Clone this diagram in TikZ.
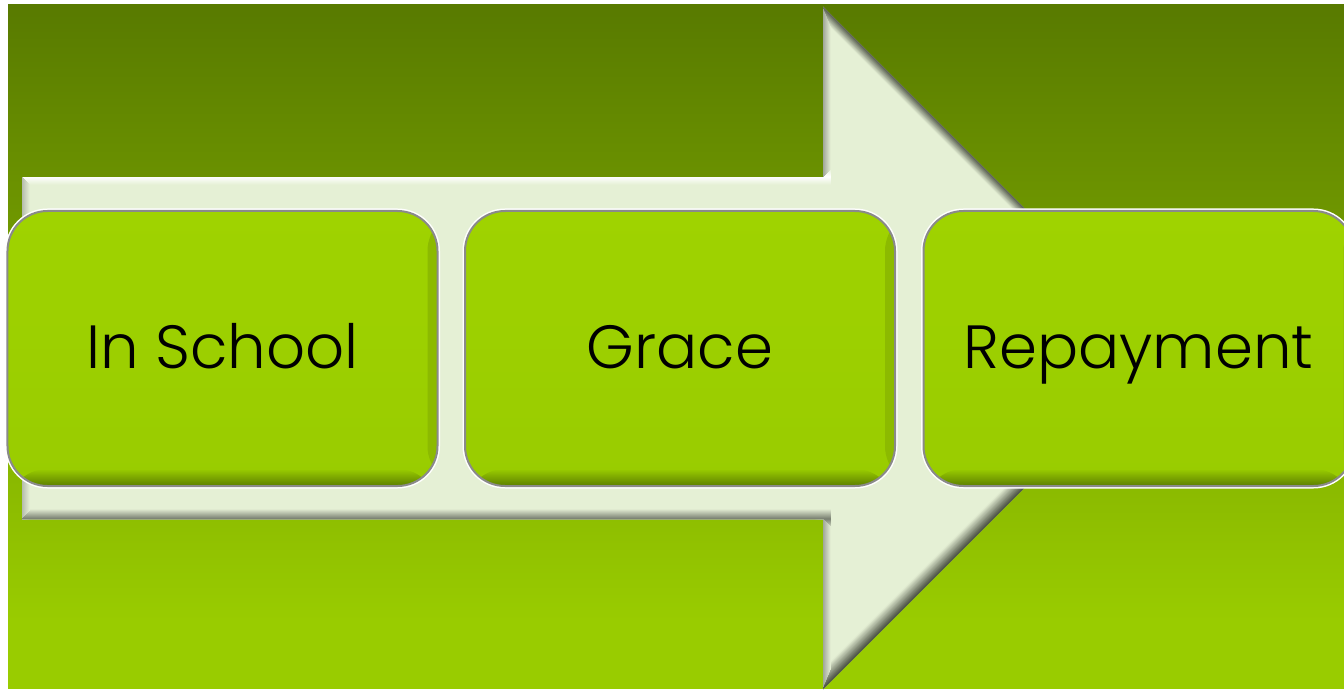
\documentclass[tikz,border=0pt]{standalone}
\usepackage{fontspec}
\newfontfamily\stagefont{Poppins}[UprightFont={* Light}]

\definecolor{bgtop}{HTML}{587A00}
\definecolor{bgbot}{HTML}{99CC00}
\definecolor{arrowfill}{HTML}{E5F0D5}
\definecolor{bvlight}{HTML}{FFFFFF}
\definecolor{bvside}{HTML}{9EA396}
\definecolor{bvleft}{HTML}{B4BAAC}
\definecolor{bvdarkup}{HTML}{5A6052}
\definecolor{bvdarklow}{HTML}{4C5244}
\definecolor{bvbottom}{HTML}{787E70}
\definecolor{boxtop}{HTML}{9FD300}
\definecolor{boxfill}{HTML}{99CC00}
\definecolor{boxshade}{HTML}{5C7E00}
\definecolor{boxright}{HTML}{8CBA00}
\definecolor{boxline}{HTML}{8A8A8A}

\tikzset{
  stage/.style={
    rounded corners=40bp, minimum width=430bp, minimum height=275bp,
    inner sep=0pt, text height=39bp, text depth=0bp,
    top color=boxtop, middle color=boxfill, bottom color=boxfill,
    draw=boxline, line width=2bp,
    preaction={draw=white, line width=5bp},
    path picture={
      \shade[left color=boxfill, right color=boxright]
        ([xshift=-10bp]path picture bounding box.south east) rectangle
        (path picture bounding box.north east);
      \shade[top color=boxfill, bottom color=boxshade]
        (path picture bounding box.south west) rectangle
        ([yshift=17bp]path picture bounding box.south east);
    },
    font=\stagefont\fontsize{61bp}{68bp}\selectfont, text=black
  }
}

% one bevel stroke along an arrow edge: half width #1, band width #2,
% edge colour #3, segment #4 (drawn only while inside the band)
\newcommand\bevelline[4]{%
  \pgfmathsetmacro\tint{max(0,100*(1-(#1-0.5)/#2))}%
  \ifdim\tint pt>0pt \draw[line width=2*#1 bp, #3!\tint!arrowfill] #4;\fi
}
\newcommand\bevelpass[1]{%
  \bevelline{#1}{8}{bvlight}{(14,177) -- (831,177)}%
  \bevelline{#1}{8}{bvleft}{(22,527) -- (22,169)}%
  \bevelline{#1}{10}{bvbottom}{(831,519) -- (14,519)}%
  \bevelline{#1}{8}{bvside}{(823,177) -- (823,0)}%
  \bevelline{#1}{8}{bvside}{(823,697) -- (823,519)}%
  \bevelline{#1}{9}{bvdarkup}{(815,-1) -- (1172,356)}%
  \bevelline{#1}{14}{bvdarklow}{(1172,340) -- (815,697)}%
}

\begin{document}
\begin{tikzpicture}[x=1bp, y=-1bp]
  \useasboundingbox (0,0) rectangle (1344,689);
  \fill[white] (0,0) rectangle (1344,689);

  % green backdrop
  \shade[top color=bgtop, bottom color=bgbot] (8,5) rectangle (1344,621);
  \fill[bgbot] (8,620) rectangle (1344,689);

  % the large bevelled arrow
  \coordinate (a1) at (22,177);
  \coordinate (a2) at (823,177);
  \coordinate (a3) at (823,7);
  \coordinate (a4) at (1164,348);
  \coordinate (a5) at (823,689);
  \coordinate (a6) at (823,519);
  \coordinate (a7) at (22,519);
  \begin{scope}
    \clip (a1) -- (a2) -- (a3) -- (a4) -- (a5) -- (a6) -- (a7) -- cycle;
    \fill[arrowfill] (a1) -- (a2) -- (a3) -- (a4) -- (a5) -- (a6) -- (a7) -- cycle;
    \foreach \h in {14,13,...,1} {
      \bevelpass{\h}
    }
  \end{scope}

  % the three stages
  \node[stage] (school)    at (222.5,348.5) {In School};
  \node[stage] (grace)     at (680,348.5)   {Grace};
  \node[stage] (repayment) at (1138.5,348.5) {Repayment};
\end{tikzpicture}
\end{document}
